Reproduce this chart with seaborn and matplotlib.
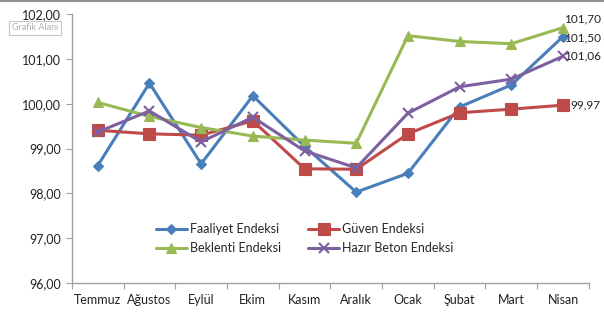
import matplotlib
matplotlib.use("Agg")
import matplotlib.pyplot as plt
import seaborn as sns
import pandas as pd
from matplotlib.ticker import FuncFormatter, FixedLocator

months = ["Temmuz", "Ağustos", "Eylül", "Ekim", "Kasım", "Aralık", "Ocak", "Şubat", "Mart", "Nisan"]
faaliyet = [98.62, 100.46, 98.66, 100.18, 99.05, 98.03, 98.45, 99.93, 100.42, 101.50]
guven = [99.41, 99.33, 99.30, 99.62, 98.55, 98.54, 99.33, 99.80, 99.88, 99.97]
beklenti = [100.03, 99.72, 99.47, 99.28, 99.19, 99.12, 101.52, 101.39, 101.34, 101.70]
hazir = [99.37, 99.84, 99.15, 99.70, 98.95, 98.57, 99.79, 100.38, 100.55, 101.06]

series_names = ["Faaliyet Endeksi", "Güven Endeksi", "Beklenti Endeksi", "Hazır Beton Endeksi"]
series_values = [faaliyet, guven, beklenti, hazir]
colors = ["#4A7EBB", "#BE4B48", "#98B954", "#7D60A0"]
markers = ["D", "s", "^", "x"]
msizes = [5, 8, 7, 7]

sns.set_theme(style="white")
plt.rcParams["font.family"] = ["Lato", "DejaVu Sans"]

fig = plt.figure(figsize=(6.04, 3.21), dpi=100)
ax = fig.add_axes([0.119, 0.118, 0.856, 0.838])

for name, vals, c, m, ms in zip(series_names, series_values, colors, markers, msizes):
    df = pd.DataFrame({"x": list(range(len(months))), "y": vals})
    sns.lineplot(data=df, x="x", y="y", ax=ax, color=c, marker=m, markersize=ms,
                 linewidth=2.2, label=name, markeredgecolor=c,
                 markeredgewidth=1.5 if m == "x" else 0.8)

ax.set_xlim(-0.5, len(months) - 0.5)
ax.set_ylim(96, 102)
ax.set_yticks([96, 97, 98, 99, 100, 101, 102])
ax.yaxis.set_major_formatter(FuncFormatter(lambda v, p: f"{v:.2f}".replace(".", ",")))
ax.set_xticks(range(len(months)))
ax.set_xticklabels(months)
ax.xaxis.set_minor_locator(FixedLocator([i - 0.5 for i in range(len(months) + 1)]))
ax.tick_params(axis="x", which="major", length=0, labelsize=9, pad=8, colors="#222222")
ax.tick_params(axis="x", which="minor", length=4, width=0.8, color="#A0A0A0", direction="out", bottom=True)
ax.tick_params(axis="y", which="major", length=4, width=0.8, color="#A0A0A0", direction="out", left=True, labelsize=9, colors="#222222")
ax.set_xlabel("")
ax.set_ylabel("")
for s in ["top", "right"]:
    ax.spines[s].set_visible(False)
for s in ["left", "bottom"]:
    ax.spines[s].set_color("#A0A0A0")
    ax.spines[s].set_linewidth(1.0)

# data labels at last point (order: faaliyet, guven, beklenti, hazir)
last = len(months) - 1
offsets = [(1, -1), (5, 0.5), (1, 6), (1, 0)]
for vals, off in zip(series_values, offsets):
    ax.annotate(f"{vals[last]:.2f}".replace(".", ","), (last, vals[last]),
                xytext=off, textcoords="offset points",
                ha="left", va="center", fontsize=8.5, color="#222222", annotation_clip=False)

handles, labels = ax.get_legend_handles_labels()
order = [0, 2, 1, 3]
leg = ax.legend([handles[i] for i in order], [labels[i] for i in order], ncol=2, loc="center",
                bbox_to_anchor=(0.45, 0.165),
                frameon=False, fontsize=9, handlelength=2.5, handletextpad=0.2,
                columnspacing=2.2, labelspacing=0.6)

# Excel tooltip
fig.text(0.02, 0.905, "Grafik Alanı", fontsize=6.5, color="#B0B0B0",
         bbox=dict(boxstyle="square,pad=0.3", fc="white", ec="#C8C8C8", lw=0.8))

# top border line
fig.add_artist(plt.Line2D([0, 1], [0.997, 0.997], color="#909090", lw=1.5, transform=fig.transFigure))

fig.savefig("out.png", dpi=100)
